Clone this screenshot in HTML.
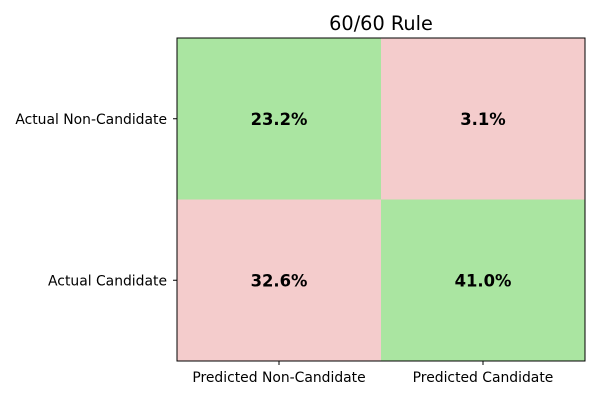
<!DOCTYPE html>
<html><head><meta charset="utf-8"><style>
body{margin:0;background:#fff;}
svg{font-family:"DejaVu Sans","Liberation Sans",sans-serif;}
</style></head><body>
<svg id="chart" width="600" height="400">
<text x="381" y="30" text-anchor="middle" font-size="19.3">60/60 Rule</text>
</svg>
<script>
const rowLabels=["Actual Non-Candidate","Actual Candidate"];
const colLabels=["Predicted Non-Candidate","Predicted Candidate"];
const cellValues=[[23.2,3.1],[32.6,41.0]];
const svg=document.getElementById('chart');
const NS="http://www.w3.org/2000/svg";
const L=177,R=585,T=38,B=361;
const cw=(R-L)/colLabels.length, ch=(B-T)/rowLabels.length;
const xPos=j=>L+j*cw, yPos=i=>T+i*ch;
function mk(t,a){const e=document.createElementNS(NS,t);for(const k in a)e.setAttribute(k,a[k]);svg.appendChild(e);return e;}
cellValues.forEach((row,i)=>row.forEach((v,j)=>{
  const r=mk('rect',{x:xPos(j),y:yPos(i),width:cw,height:ch,fill:(i===j)?'#aae5a1':'#f4cccc'});
  
  
  const t=mk('text',{x:xPos(j)+cw/2,y:yPos(i)+ch/2+6,'text-anchor':'middle','font-size':'16.4','font-weight':'bold'});
  t.textContent=v.toFixed(1)+'%';
  
  
}));
const fr=mk('rect',{x:L,y:T,width:R-L,height:B-T,fill:'none',stroke:'#000','stroke-width':1});


rowLabels.forEach((lab,i)=>{
  const y=yPos(i)+ch/2;
  mk('line',{x1:L-4,x2:L,y1:y,y2:y,stroke:'#000'});
  const t=mk('text',{x:L-10,y:y+5,'text-anchor':'end','font-size':'13.9'});
  t.textContent=lab;
  
  
});
colLabels.forEach((lab,j)=>{
  const x=xPos(j)+cw/2;
  mk('line',{x1:x,x2:x,y1:B,y2:B+4,stroke:'#000'});
  const t=mk('text',{x:x,y:B+21,'text-anchor':'middle','font-size':'13.9'});
  t.textContent=lab;
  
  
});
</script>
</body></html>
